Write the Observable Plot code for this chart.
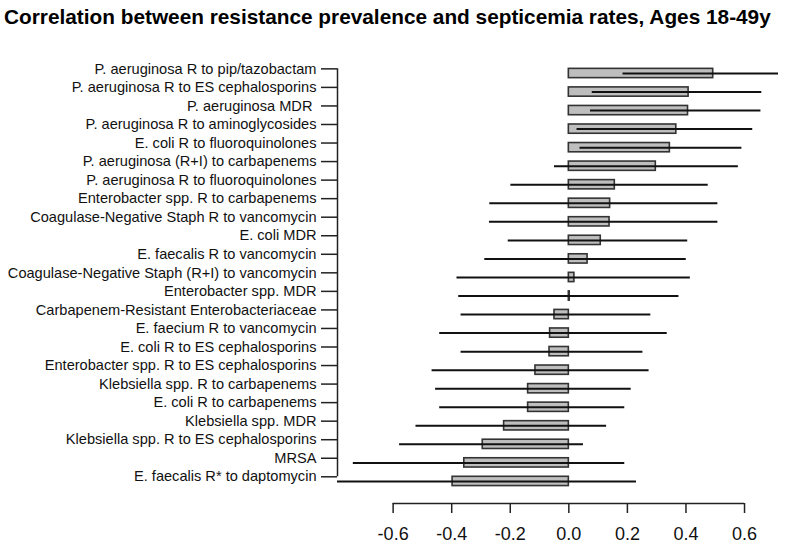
<!DOCTYPE html>
<html>
<head>
<meta charset="utf-8">
<script src="https://cdn.jsdelivr.net/npm/d3@7"></script>
<script src="https://cdn.jsdelivr.net/npm/@observablehq/plot@0.6"></script>
<style>
  html, body { margin: 0; padding: 0; background: #fff; }
  #title { height: 34px; font: bold 20.8px "Liberation Sans", Arial, sans-serif; color: #000;
           padding-left: 4px; line-height: 34px; white-space: nowrap; }
  #chart svg { display: block; }
</style>
</head>
<body>
<div id="title">Correlation between resistance prevalence and septicemia rates, Ages 18-49y</div>
<div id="chart"></div>
<script>
const labels = [
  "P. aeruginosa R to pip/tazobactam",
  "P. aeruginosa R to ES cephalosporins",
  "P. aeruginosa MDR ",
  "P. aeruginosa R to aminoglycosides",
  "E. coli R to fluoroquinolones",
  "P. aeruginosa (R+I) to carbapenems",
  "P. aeruginosa R to fluoroquinolones",
  "Enterobacter spp. R to carbapenems",
  "Coagulase-Negative Staph R to vancomycin",
  "E. coli MDR",
  "E. faecalis R to vancomycin",
  "Coagulase-Negative Staph (R+I) to vancomycin",
  "Enterobacter spp. MDR",
  "Carbapenem-Resistant Enterobacteriaceae",
  "E. faecium R to vancomycin",
  "E. coli R to ES cephalosporins",
  "Enterobacter spp. R to ES cephalosporins",
  "Klebsiella spp. R to carbapenems",
  "E. coli R to carbapenems",
  "Klebsiella spp. MDR",
  "Klebsiella spp. R to ES cephalosporins",
  "MRSA",
  "E. faecalis R* to daptomycin"
];
const estimate = [0.493, 0.409, 0.407, 0.367, 0.345, 0.297, 0.157, 0.141, 0.139, 0.109, 0.064, 0.019, 0.003,
  -0.049, -0.064, -0.066, -0.114, -0.139, -0.139, -0.221, -0.294, -0.357, -0.397];
const lower = [0.185, 0.080, 0.074, 0.028, 0.038, -0.049, -0.198, -0.270, -0.271, -0.207, -0.287, -0.382, -0.376,
  -0.368, -0.441, -0.368, -0.467, -0.455, -0.441, -0.522, -0.578, -0.736, -0.790];
const upper = [0.716, 0.659, 0.656, 0.628, 0.591, 0.579, 0.476, 0.509, 0.509, 0.406, 0.401, 0.415, 0.376,
  0.280, 0.336, 0.253, 0.274, 0.213, 0.191, 0.129, 0.050, 0.191, 0.231];
const xTicks = [-0.6, -0.4, -0.2, 0.0, 0.2, 0.4, 0.6];

const rows = labels.map((label, i) => ({i, label, est: estimate[i], lo: lower[i], hi: upper[i]}));
const half = 0.25;
const xMin = d3.min(lower), xMax = d3.max(upper);
const yBottom = 23.19;
const tickRows = rows.map(d => d.i - half);

const chart = Plot.plot({
  width: 800,
  height: 519,
  marginTop: 0,
  marginBottom: 50,
  marginLeft: 337,
  marginRight: 22,
  style: {fontFamily: "'Liberation Sans', Arial, sans-serif", background: "#fff"},
  x: {domain: [xMin, xMax], label: null},
  y: {domain: [-2.103, yBottom], reverse: true, label: null},
  marks: [
    Plot.rect(rows, {x1: 0, x2: "est", y1: d => d.i - half, y2: d => d.i + half,
      fill: "#bebebe", stroke: "#333", strokeWidth: 1.6}),
    Plot.ruleY(rows, {y: "i", x1: "lo", x2: "hi", stroke: "#111", strokeWidth: 2}),
    Plot.ruleX([xMin], {y1: d3.min(tickRows), y2: d3.max(tickRows), stroke: "#222", strokeWidth: 1.5}),
    Plot.ruleY([yBottom], {x1: d3.min(xTicks), x2: d3.max(xTicks), stroke: "#222", strokeWidth: 1.5}),
    Plot.axisY(tickRows, {tickSize: 16, tickPadding: 5, tickFormat: t => labels[Math.round(t + half)],
      fontSize: 14.6, stroke: "#222", strokeWidth: 1.5, fill: "#111", label: null}),
    Plot.axisX(xTicks, {anchor: "bottom", tickSize: 10, tickPadding: 14, tickFormat: d => d.toFixed(1),
      fontSize: 18, stroke: "#222", strokeWidth: 1.5, fill: "#111", label: null})
  ]
});
document.getElementById("chart").appendChild(chart);
</script>
</body>
</html>
